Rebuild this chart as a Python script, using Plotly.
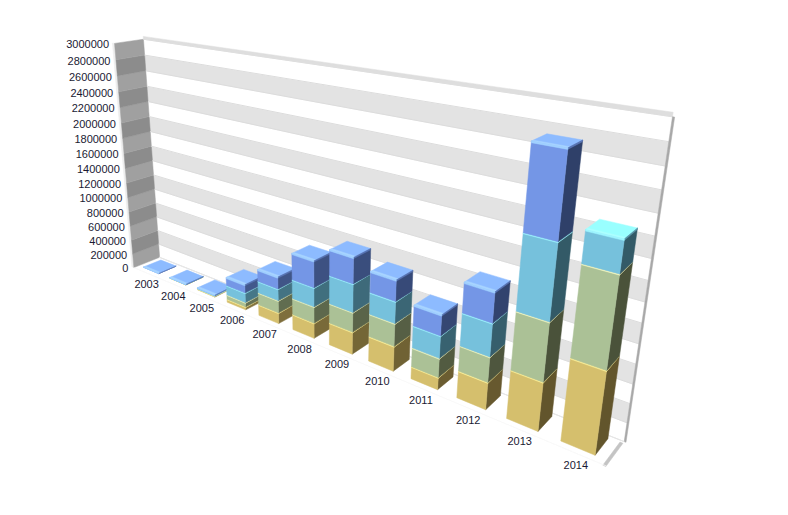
import numpy as np
import plotly.graph_objects as go

categories = ["2003","2004","2005","2006","2007","2008","2009","2010","2011","2012","2013","2014"]
series_yellow = [0, 3000, 6000, 41000, 140000, 192000, 269000, 294000, 141000, 302000, 523000, 855000]
series_green  = [0, 1000, 8000, 58000, 157000, 202000, 235000, 263000, 217000, 276000, 607000, 894000]
series_cyan   = [0, 1000, 5000, 127000, 148000, 233000, 334000, 250000, 250000, 354000, 758000, 306000]
series_blue   = [3000, 3000, 8000, 107000, 149000, 321000, 302000, 238000, 229000, 320000, 820000, 0]
y_ticks = list(range(0, 3000001, 200000))
Y_MAX = 3000000

# camera: (slot, depth, value share) seen at pixel (u, v); depth 0 = front, 1 = back wall
calibration = [
    ((0,1,0),(159.5,258)), ((0,1,1),(143,39.5)), ((12,1,0),(625,440)), ((12,1,1),(672.5,117)),
    ((0,0,0),(134,267)), ((0,0,1),(115,43)), ((12,0,0),(605,468)),
]
rows=[]; rhs=[]
for (X,Y,Z),(u,v) in calibration:
    rows.append([X,Y,Z,1,0,0,0,0,-u*X,-u*Y,-u*Z]); rhs.append(u)
    rows.append([0,0,0,0,X,Y,Z,1,-v*X,-v*Y,-v*Z]); rhs.append(v)
h = np.linalg.lstsq(np.array(rows,float),np.array(rhs,float),rcond=None)[0]
P = np.append(h,1).reshape(3,4)
def project(X,Y,V):
    p = P @ np.array([X,Y,V/Y_MAX,1.0])
    return p[0]/p[2], p[1]/p[2]

def mix(c1,c2,t):
    a=[int(c1[i:i+2],16) for i in (1,3,5)]; b=[int(c2[i:i+2],16) for i in (1,3,5)]
    return "#%02x%02x%02x"%tuple(round(a[k]+(b[k]-a[k])*t) for k in range(3))

fig = go.Figure()
def face(corners, color, line=None):
    pts=[project(*c) for c in corners]
    xs=[p[0] for p in pts]+[pts[0][0]]
    ys=[p[1] for p in pts]+[pts[0][1]]
    fig.add_trace(go.Scatter(x=xs,y=ys,mode="lines",fill="toself",fillcolor=color,
        line=dict(color=line or color,width=0.5),hoverinfo="skip",showlegend=False))

# walls
N=12
face([(-0.08,0,0),(0,0,0),(0,0,Y_MAX),(-0.08,0,Y_MAX)],"#ededed")
for i in range(len(y_ticks)-1):
    a,b=y_ticks[i],y_ticks[i+1]
    face([(0,1,a),(N,1,a),(N,1,b),(0,1,b)],"#ffffff" if i%2==0 else "#e3e3e3")
    face([(0,0,a),(0,1,a),(0,1,b),(0,0,b)],"#a0a0a0" if i%2==0 else "#8c8c8c")
for v in y_ticks:
    pts=[project(0,1,v),project(N,1,v)]
    fig.add_trace(go.Scatter(x=[p[0] for p in pts],y=[p[1] for p in pts],mode="lines",
        line=dict(color="#dcdcdc",width=1),hoverinfo="skip",showlegend=False))
# wall rims
face([(0,1,Y_MAX),(N,1,Y_MAX),(N,1,Y_MAX*1.012),(0,1,Y_MAX*1.012)],"#dedede")
face([(N,1,0),(N,1,Y_MAX),(N+0.03,1,Y_MAX),(N+0.03,1,0)],"#a8a8a8")
face([(N,0.93,0),(N,0,0),(N-0.05,0,0),(N-0.05,0.93,0)],"#c4c4c4")
face([(0,1,0),(N,1,0),(N,0.98,0),(0,0.98,0)],"#e8e8e8")
face([(0,0,0),(N,0,0),(N,0.02,0),(0,0.02,0)],"#f6f6f6")

# bars
palette = [
    dict(front="#d5bf6d",side="#62552c",bevel="#fff39a",edge="#fff39a",top="#fff39a",lit="#fff7b8"),
    dict(front="#abc196",side="#4a523a",bevel="#f4f7c0",edge="#f4f7c0",top="#f4f7c0",lit="#fbfcd8"),
    dict(front="#76c1dc",side="#335a67",bevel="#9ef5ff",edge="#9ef5ff",top="#99ffff",lit="#adffff"),
    dict(front="#7496e6",side="#2f4069",bevel="#a0d0ff",edge="#a0d0ff",top="#8dbbff",lit="#a8d4ff"),
]
series=[series_yellow,series_green,series_cyan,series_blue]
x0,x1,y0,y1=0.17,0.76,0.2,0.88
for i,cat in enumerate(categories):
    base=0.0
    L,R=i+x0,i+x1
    fade=0.28*max(0,1-max(0,i-3)/7)
    segs=[(s,palette[k]) for k,s in enumerate(s[i] for s in series) if s>0]
    for j,(val,c) in enumerate(segs):
        t=base+val
        last=j==len(segs)-1
        bev=min(14000 if last else 10000,val*0.5)
        face([(R,y0,base),(R,y1,base),(R,y1,t),(R,y0,t)],mix(c["side"],c["front"],fade))
        face([(L,y0,base),(R,y0,base),(R,y0,t),(L,y0,t)],c["front"])
        if last:
            face([(L,y0,t),(R,y0,t),(R,y1,t),(L,y1,t)],c["top"])
            face([(L,y0,t),(R,y0,t),(R,y0+0.08,t),(L,y0+0.08,t)],c["lit"])
            face([(R,y0,t-bev),(R,y1,t-bev),(R,y1,t),(R,y0,t)],mix(c["side"],c["front"],0.6))
        else:
            face([(R,y0,t-bev),(R,y1,t-bev),(R,y1,t),(R,y0,t)],c["edge"])
        face([(L,y0,t-bev),(R,y0,t-bev),(R,y0,t),(L,y0,t)],c["bevel"])
        base=t

TXT="#1a1a33"
font=dict(family="Liberation Sans",size=11,color=TXT)
lab=[project(0,0,v) for v in y_ticks]
fig.add_trace(go.Scatter(x=[p[0]-5.5 for p in lab],y=[p[1]+2 for p in lab],text=[str(v) for v in y_ticks],
    mode="text",textposition="middle left",textfont=font,hoverinfo="skip",showlegend=False))
lab=[project(i+0.5,0,0) for i in range(len(categories))]
fig.add_trace(go.Scatter(x=[p[0] for p in lab],y=[p[1]+12.5 for p in lab],text=categories,
    mode="text",textposition="middle center",textfont=font,hoverinfo="skip",showlegend=False))

fig.update_layout(width=788,height=515,margin=dict(l=0,r=0,t=0,b=0),paper_bgcolor="white",plot_bgcolor="white",
    xaxis=dict(range=[0,788],visible=False,fixedrange=True),yaxis=dict(range=[515,0],visible=False,fixedrange=True),showlegend=False)
fig.write_html("out.html",config={"displayModeBar":False},post_script="document.body.style.margin='0';document.body.style.padding='0';document.documentElement.style.overflow='hidden';")
